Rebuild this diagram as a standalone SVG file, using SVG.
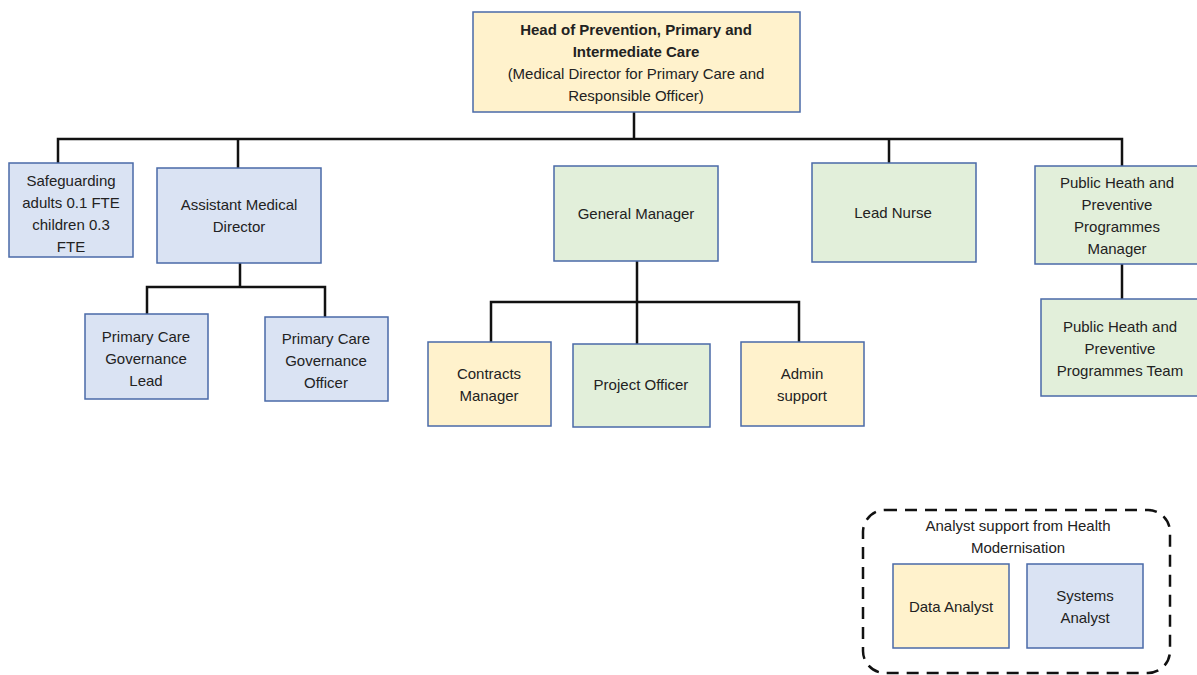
<svg xmlns="http://www.w3.org/2000/svg" width="1197" height="675" viewBox="0 0 1197 675">
<style>
.box{stroke:#4a6aa8;stroke-width:1.5}
.y{fill:#fff2cc}.b{fill:#dae3f3}.g{fill:#e2efda}
text{font-family:"Liberation Sans",Arial,sans-serif;font-size:15px;fill:#222;text-anchor:middle}
.bold{font-weight:bold}
.conn{fill:none;stroke:#111;stroke-width:2.5}
</style>
<rect width="1197" height="675" fill="#fff"/>
<g id="connectors">
<path class="conn" d="M634 112V138M58 163V139H1122V166"/>
<path class="conn" d="M238 138V168M889 138V163"/>
<path class="conn" d="M240 263V287M147 314V287H325V317"/>
<path class="conn" d="M637 261V344M491 342V302H799V342"/>
<path class="conn" d="M1122 264V299"/>
</g>
<g id="head">
<rect class="box y" x="473" y="12" width="327" height="100"/>
<text x="636" y="35" class="bold">Head of Prevention, Primary and</text>
<text x="636" y="57" class="bold">Intermediate Care</text>
<text x="636" y="79">(Medical Director for Primary Care and</text>
<text x="636" y="101">Responsible Officer)</text>
</g>
<g id="safeguarding">
<rect class="box b" x="9" y="163" width="124" height="94"/>
<text x="71" y="186">Safeguarding</text>
<text x="71" y="208">adults 0.1 FTE</text>
<text x="71" y="230">children 0.3</text>
<text x="71" y="252">FTE</text>
</g>
<g id="amd">
<rect class="box b" x="157" y="168" width="164" height="95"/>
<text x="239" y="210">Assistant Medical</text>
<text x="239" y="232">Director</text>
</g>
<g id="pcgl">
<rect class="box b" x="85" y="314" width="123" height="85"/>
<text x="146" y="342">Primary Care</text>
<text x="146" y="364">Governance</text>
<text x="146" y="386">Lead</text>
</g>
<g id="pcgo">
<rect class="box b" x="265" y="317" width="123" height="84"/>
<text x="326" y="344">Primary Care</text>
<text x="326" y="366">Governance</text>
<text x="326" y="388">Officer</text>
</g>
<g id="gm">
<rect class="box g" x="554" y="166" width="164" height="95"/>
<text x="636" y="219">General Manager</text>
</g>
<g id="contracts">
<rect class="box y" x="428" y="342" width="123" height="84"/>
<text x="489" y="379">Contracts</text>
<text x="489" y="401">Manager</text>
</g>
<g id="project">
<rect class="box g" x="573" y="344" width="137" height="83"/>
<text x="641" y="390">Project Officer</text>
</g>
<g id="admin">
<rect class="box y" x="741" y="342" width="123" height="84"/>
<text x="802" y="379">Admin</text>
<text x="802" y="401">support</text>
</g>
<g id="leadnurse">
<rect class="box g" x="812" y="163" width="164" height="99"/>
<text x="893" y="218">Lead Nurse</text>
</g>
<g id="phm">
<rect class="box g" x="1035" y="166" width="164" height="98"/>
<text x="1117" y="188">Public Heath and</text>
<text x="1117" y="210">Preventive</text>
<text x="1117" y="232">Programmes</text>
<text x="1117" y="254">Manager</text>
</g>
<g id="pht">
<rect class="box g" x="1041" y="299" width="158" height="97"/>
<text x="1120" y="332">Public Heath and</text>
<text x="1120" y="354">Preventive</text>
<text x="1120" y="376">Programmes Team</text>
</g>
<g id="analyst-group">
<rect x="863" y="510" width="307" height="163" rx="22" fill="none" stroke="#111" stroke-width="2.5" stroke-dasharray="12 8"/>
<text x="1018" y="531">Analyst support from Health</text>
<text x="1018" y="553">Modernisation</text>
</g>
<g id="data-analyst">
<rect class="box y" x="893" y="564" width="116" height="84"/>
<text x="951" y="612">Data Analyst</text>
</g>
<g id="systems-analyst">
<rect class="box b" x="1027" y="564" width="116" height="84"/>
<text x="1085" y="601">Systems</text>
<text x="1085" y="623">Analyst</text>
</g>
</svg>
